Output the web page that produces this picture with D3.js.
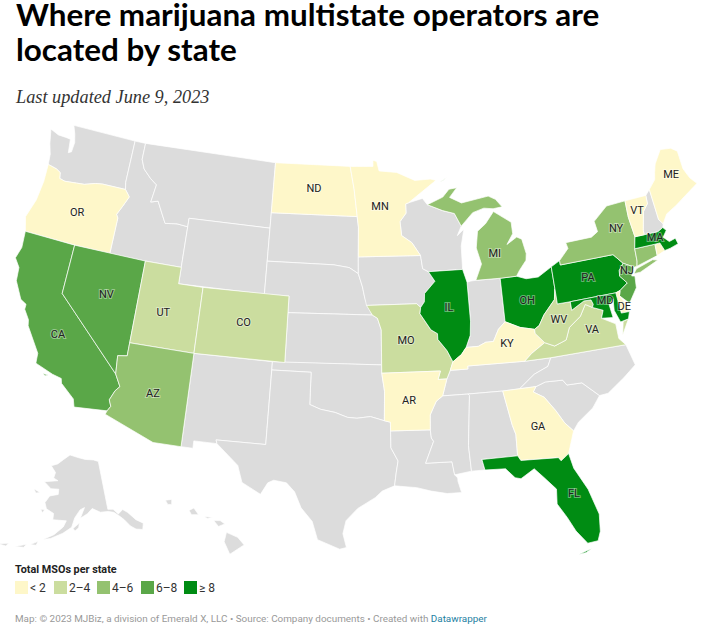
<!DOCTYPE html>
<html>
<head>
<meta charset="utf-8">
<script src="https://cdn.jsdelivr.net/npm/d3@7"></script>
<style>
	body { margin: 0; background: #fff; }
	text { font-family: Roboto, sans-serif; }
	.title { font-family: Lato, sans-serif; font-weight: 700; font-size: 31.4px; fill: #000; }
	.subtitle { font-family: "Liberation Serif", serif; font-style: italic; font-size: 18.3px; fill: #333; }
	.state-label { font-size: 11px; fill: #222; text-anchor: middle; paint-order: stroke; stroke: #fff; stroke-opacity: 0.4; stroke-width: 2px; }
</style>
</head>
<body>
<svg id="chart" width="706" height="637"></svg>
<script>
var titleLines = ["Where marijuana multistate operators are", "located by state"];
var subtitle = "Last updated June 9, 2023";
var legendTitle = "Total MSOs per state";
var legendLabels = ["< 2", "2\u20134", "4\u20136", "6\u20138", "\u2265 8"];
var legendColors = ["#fef7c9", "#cbdd9f", "#94c270", "#5aa748", "#008c13"];
var noDataColor = "#dcdcdc";

// buckets are indexes into legendLabels
var under2 = ["OR", "ND", "MN", "ME", "VT", "AR", "KY", "GA", "RI", "DE"];
var from2to4 = ["UT", "CO", "MO", "WV", "VA"];
var from4to6 = ["AZ", "MI", "NY", "CT"];
var from6to8 = ["CA", "NV", "NJ"];
var over8 = ["IL", "OH", "PA", "FL", "MA", "MD"];

// state outlines as [lon, lat] rings
var outlines = {
	WA: [[[-124.7,48.38],[-123.9,48.17],[-123.1,48.15],[-122.75,48.12],[-122.6,47.3],[-122.35,47.4],[-122.3,48.0],[-122.5,48.5],[-122.8,49],[-117.03,49],[-117.04,46.42],[-116.92,45.99],[-118.98,45.99],[-119.6,45.92],[-120.5,45.7],[-121.2,45.65],[-122.2,45.57],[-122.7,45.65],[-122.8,46],[-123.2,46.15],[-124,46.27],[-124.1,46.9],[-124.4,47.5]]],
	OR: [[[-124,46.27],[-123.2,46.15],[-122.8,46],[-122.7,45.65],[-122.2,45.57],[-121.2,45.65],[-120.5,45.7],[-119.6,45.92],[-118.98,45.99],[-116.92,45.99],[-116.46,45.6],[-116.85,44.95],[-117.2,44.4],[-117.03,44.2],[-117.03,42],[-120,42],[-124.21,42],[-124.55,42.85],[-124.1,44],[-123.95,45.2]]],
	CA: [[[-124.21,42],[-120,42],[-120,39],[-114.63,35],[-114.14,34.3],[-114.43,34],[-114.72,33.4],[-114.52,33.03],[-114.72,32.72],[-117.12,32.53],[-117.3,33],[-118.4,33.75],[-118.5,34.03],[-119.2,34.15],[-120.6,34.55],[-120.65,35.15],[-121.9,36.6],[-122,36.95],[-122.5,37.5],[-122.5,37.8],[-123,38],[-123.75,39],[-123.85,39.8],[-124.35,40.3],[-124.1,41]], [[-119.9,34.05],[-119.5,34.05],[-119.7,33.95]]],
	NV: [[[-120,42],[-114.04,42],[-114.04,36.2],[-114.75,36.1],[-114.63,35],[-120,39]]],
	ID: [[[-117.03,49],[-116.05,49],[-116.05,48],[-115.7,47.45],[-114.95,46.95],[-114.35,46.65],[-114.55,45.56],[-113.94,45.7],[-113.45,45.05],[-113,44.45],[-112,44.55],[-111.05,44.48],[-111.05,42],[-114.04,42],[-117.03,42],[-117.03,44.2],[-117.2,44.4],[-116.85,44.95],[-116.46,45.6],[-116.92,45.99],[-117.04,46.42]]],
	MT: [[[-116.05,49],[-104.05,49],[-104.05,45],[-111.05,45],[-111.05,44.48],[-112,44.55],[-113,44.45],[-113.45,45.05],[-113.94,45.7],[-114.55,45.56],[-114.35,46.65],[-114.95,46.95],[-115.7,47.45],[-116.05,48]]],
	WY: [[[-111.05,45],[-104.05,45],[-104.05,41],[-111.05,41]]],
	UT: [[[-114.04,42],[-111.05,42],[-111.05,41],[-109.05,41],[-109.05,37],[-114.04,37]]],
	CO: [[[-109.05,41],[-102.05,41],[-102.05,37],[-109.05,37]]],
	AZ: [[[-114.04,37],[-109.05,37],[-109.05,31.33],[-111.07,31.33],[-114.81,32.5],[-114.72,32.72],[-114.52,33.03],[-114.72,33.4],[-114.43,34],[-114.14,34.3],[-114.63,35],[-114.75,36.1],[-114.04,36.2]]],
	NM: [[[-109.05,37],[-103,37],[-103.04,32],[-106.62,32],[-106.53,31.78],[-108.2,31.78],[-108.2,31.33],[-109.05,31.33]]],
	ND: [[[-104.05,49],[-97.23,49],[-96.85,47.6],[-96.56,45.94],[-104.05,45.94]]],
	SD: [[[-104.05,45.94],[-96.56,45.94],[-96.45,45.3],[-96.45,43.5],[-96.44,42.49],[-97.2,42.85],[-98.5,43],[-104.05,43]]],
	NE: [[[-104.05,43],[-98.5,43],[-97.2,42.85],[-96.44,42.49],[-96.1,41.7],[-95.9,41],[-95.31,40],[-102.05,40],[-102.05,41],[-104.05,41]]],
	KS: [[[-102.05,40],[-95.31,40],[-94.9,39.8],[-94.61,39.1],[-94.62,37],[-102.05,37]]],
	OK: [[[-103,37],[-94.62,37],[-94.62,36.5],[-94.43,35.4],[-94.48,33.64],[-95.5,33.9],[-96.5,33.8],[-97.2,33.85],[-98.1,34.13],[-99.2,34.3],[-100,34.56],[-100,36.5],[-103,36.5]]],
	TX: [[[-106.62,32],[-103.04,32],[-103,36.5],[-100,36.5],[-100,34.56],[-99.2,34.3],[-98.1,34.13],[-97.2,33.85],[-96.5,33.8],[-95.5,33.9],[-94.48,33.64],[-94.04,33.55],[-94.04,32],[-93.55,31.2],[-93.7,30.5],[-93.84,29.7],[-94.7,29.4],[-95.2,29],[-96.4,28.35],[-97.2,27.6],[-97.4,26.8],[-97.15,25.96],[-97.6,25.85],[-99.1,26.4],[-99.5,27.5],[-100.3,28.3],[-100.8,29.25],[-101.4,29.77],[-102.3,29.88],[-102.7,29.7],[-103.15,28.97],[-104.5,29.6],[-104.9,30.6],[-106.53,31.78]]],
	MN: [[[-97.23,49],[-95.15,49],[-95.15,49.38],[-94.8,49.3],[-94.6,48.72],[-93,48.6],[-91.4,48.07],[-90,48.1],[-89.5,48],[-92.05,46.72],[-92.3,46.66],[-92.3,46.1],[-92.85,45.6],[-92.75,44.75],[-91.9,44.3],[-91.22,43.5],[-96.45,43.5],[-96.45,45.3],[-96.56,45.94],[-96.85,47.6]]],
	IA: [[[-96.45,43.5],[-91.22,43.5],[-91.1,42.7],[-90.64,42.5],[-90.15,41.9],[-91.05,41.2],[-91.1,40.7],[-91.42,40.38],[-91.73,40.61],[-95.77,40.58],[-95.9,41],[-96.1,41.7],[-96.44,42.49]]],
	MO: [[[-95.77,40.58],[-91.73,40.61],[-91.42,40.38],[-91.5,40],[-90.7,39],[-90.2,38.75],[-90.2,38.4],[-89.55,37.7],[-89.15,37],[-89.4,36.5],[-89.7,36],[-90.37,36],[-90.15,36.5],[-94.62,36.5],[-94.62,37],[-94.61,39.1],[-94.9,39.8],[-95.31,40]]],
	AR: [[[-94.62,36.5],[-90.15,36.5],[-90.37,36],[-89.7,36],[-90.1,35],[-90.6,34.7],[-91.1,33.9],[-91.15,33],[-94.04,33.02],[-94.04,33.55],[-94.48,33.64],[-94.43,35.4]]],
	LA: [[[-94.04,33.02],[-91.15,33],[-91.1,32.5],[-90.95,32.3],[-91.6,31],[-89.73,31],[-89.6,30.2],[-89.4,30],[-89.4,29.8],[-89.2,29.1],[-90.2,29.1],[-91.3,29.3],[-92.3,29.55],[-93.84,29.7],[-93.7,30.5],[-93.55,31.2],[-94.04,32]]],
	WI: [[[-92.05,46.72],[-90.8,46.95],[-90.4,46.55],[-89.1,46.13],[-88.1,45.9],[-87.6,45.1],[-88,44.55],[-87.4,44.9],[-87.75,43.9],[-87.8,42.49],[-90.64,42.5],[-91.1,42.7],[-91.22,43.5],[-91.9,44.3],[-92.75,44.75],[-92.85,45.6],[-92.3,46.1],[-92.3,46.66]]],
	IL: [[[-90.64,42.5],[-87.8,42.49],[-87.53,41.7],[-87.53,39.35],[-87.65,38.5],[-88.05,37.8],[-88.45,37.4],[-89.15,37],[-89.55,37.7],[-90.2,38.4],[-90.2,38.75],[-90.7,39],[-91.5,40],[-91.42,40.38],[-91.1,40.7],[-91.05,41.2],[-90.15,41.9]]],
	IN: [[[-87.53,41.7],[-87.2,41.75],[-86.8,41.76],[-84.8,41.73],[-84.82,39.1],[-85.4,38.7],[-85.9,38],[-86.5,38],[-87.1,37.8],[-88.05,37.8],[-87.65,38.5],[-87.53,39.35]]],
	OH: [[[-84.8,41.73],[-83.45,41.73],[-82.7,41.5],[-81.7,41.5],[-80.52,41.98],[-80.52,40.64],[-80.7,40],[-81.7,39.2],[-82.2,38.6],[-82.6,38.42],[-83.7,38.65],[-84.82,39.1]]],
	KY: [[[-89.4,36.5],[-88.05,36.5],[-88.05,36.68],[-83.68,36.6],[-83.1,37],[-81.97,37.54],[-82.6,38.17],[-82.6,38.42],[-83.7,38.65],[-84.82,39.1],[-85.4,38.7],[-85.9,38],[-86.5,38],[-87.1,37.8],[-88.05,37.8],[-88.45,37.4],[-89.15,37]]],
	TN: [[[-89.7,36],[-89.4,36.5],[-88.05,36.5],[-88.05,36.68],[-83.68,36.6],[-81.68,36.59],[-82,36.1],[-83.1,35.75],[-84.32,35],[-85.6,34.98],[-88.2,35],[-90.1,35]]],
	MS: [[[-90.1,35],[-88.2,35],[-88.1,34.9],[-88.47,31.9],[-88.4,30.35],[-89.6,30.2],[-89.73,31],[-91.6,31],[-90.95,32.3],[-91.1,32.5],[-91.15,33],[-91.1,33.9],[-90.6,34.7]]],
	AL: [[[-88.2,35],[-85.6,34.98],[-85.18,32.87],[-85,32.3],[-85.05,31],[-87.6,31],[-87.45,30.35],[-88.4,30.35],[-88.47,31.9],[-88.1,34.9]]],
	GA: [[[-85.6,34.98],[-83.1,35],[-83.35,34.7],[-82.6,34.3],[-81.9,33.4],[-81.4,32.6],[-80.85,32.03],[-81.45,30.72],[-82.05,30.36],[-82.2,30.57],[-84.86,30.7],[-85.05,31],[-85,32.3],[-85.18,32.87]]],
	FL: [[[-87.6,31],[-85.05,31],[-84.86,30.7],[-82.2,30.57],[-82.05,30.36],[-81.45,30.72],[-81.25,29.8],[-80.5,28.4],[-80.03,26.8],[-80.15,25.75],[-80.4,25.2],[-81.1,25.15],[-81.75,26],[-82.2,26.9],[-82.75,27.8],[-82.65,28.7],[-83.4,29.5],[-84,30.1],[-85,29.6],[-85.4,29.7],[-86,30.3],[-87.45,30.35]], [[-81.8,24.55],[-80.9,24.8],[-81.3,24.6]]],
	SC: [[[-83.1,35],[-82.35,35.2],[-81.05,35.15],[-80.8,34.82],[-79.67,34.8],[-78.55,33.86],[-79.2,33.2],[-80.4,32.5],[-80.85,32.03],[-81.4,32.6],[-81.9,33.4],[-82.6,34.3],[-83.35,34.7]]],
	NC: [[[-84.32,35],[-83.1,35.75],[-82,36.1],[-81.68,36.59],[-75.87,36.55],[-75.5,35.25],[-76.5,34.65],[-77.9,33.9],[-78.55,33.86],[-79.67,34.8],[-80.8,34.82],[-81.05,35.15],[-82.35,35.2],[-83.1,35]]],
	VA: [[[-83.68,36.6],[-83.1,37],[-81.97,37.54],[-81.25,37.25],[-80.3,37.5],[-79.9,38.2],[-78.9,38.75],[-78.35,39.4],[-77.83,39.14],[-77.05,38.85],[-77.3,38.4],[-76.3,37.9],[-76.3,37],[-75.87,36.55],[-81.68,36.59]], [[-75.95,37.15],[-75.6,37.6],[-75.25,38.03],[-75.7,37.95]]],
	WV: [[[-81.97,37.54],[-82.6,38.17],[-82.6,38.42],[-82.2,38.6],[-81.7,39.2],[-80.7,40],[-80.52,40.64],[-80.52,39.72],[-79.48,39.72],[-79.48,39.2],[-78.4,39.62],[-77.83,39.6],[-77.72,39.32],[-77.83,39.14],[-78.35,39.4],[-78.9,38.75],[-79.9,38.2],[-80.3,37.5],[-81.25,37.25]]],
	PA: [[[-80.52,41.98],[-79.76,42.27],[-79.76,42],[-75.35,42],[-74.7,41.36],[-75.13,40.98],[-75.2,40.65],[-74.72,40.15],[-75.42,39.8],[-75.79,39.72],[-79.48,39.72],[-80.52,39.72],[-80.52,40.64]]],
	NY: [[[-79.76,42.27],[-78.9,42.9],[-79,43.27],[-76.8,43.3],[-76.2,43.55],[-76.3,44.2],[-75,44.95],[-73.35,45],[-73.4,44],[-73.25,42.75],[-73.5,42.05],[-73.55,41.3],[-73.65,41],[-73.9,40.98],[-74.7,41.36],[-75.35,42],[-79.76,42]], [[-74.03,40.6],[-73.75,40.85],[-72.3,41.15],[-71.9,41.05],[-73.5,40.6]]],
	NJ: [[[-74.7,41.36],[-73.9,40.98],[-74.25,40.5],[-74,40.45],[-74.1,39.75],[-74.9,38.93],[-75.55,39.5],[-75.42,39.8],[-74.72,40.15],[-75.2,40.65],[-75.13,40.98]]],
	DE: [[[-75.79,39.72],[-75.42,39.8],[-75.55,39.5],[-75.1,38.8],[-75.05,38.45],[-75.7,38.46]]],
	MD: [[[-79.48,39.72],[-75.79,39.72],[-75.7,38.46],[-75.05,38.45],[-75.25,38.03],[-75.9,37.95],[-76.2,38.7],[-76.1,39.4],[-76.5,39.1],[-76.4,38.3],[-77.3,38.4],[-77.05,38.85],[-77.83,39.14],[-77.72,39.32],[-77.83,39.6],[-78.4,39.62],[-79.48,39.2]]],
	CT: [[[-73.5,42.05],[-71.8,42.02],[-71.85,41.32],[-73.65,41],[-73.55,41.3]]],
	RI: [[[-71.8,42.02],[-71.38,42.02],[-71.15,41.5],[-71.85,41.32]]],
	MA: [[[-73.5,42.05],[-73.25,42.75],[-72.46,42.73],[-71.3,42.7],[-70.82,42.87],[-70.6,42.65],[-71,42.3],[-70.6,41.95],[-70.05,42.05],[-69.95,41.68],[-70.65,41.55],[-71.15,41.5],[-71.38,42.02],[-71.8,42.02]]],
	VT: [[[-73.35,45],[-71.5,45.01],[-71.55,44.5],[-72.05,44.1],[-72.45,43],[-72.46,42.73],[-73.25,42.75],[-73.4,44]]],
	NH: [[[-71.5,45.01],[-71.08,45.3],[-70.98,43.4],[-70.7,43.08],[-70.82,42.87],[-71.3,42.7],[-72.46,42.73],[-72.45,43],[-72.05,44.1],[-71.55,44.5]]],
	ME: [[[-71.08,45.3],[-70.4,45.8],[-70.25,46.2],[-70,46.7],[-69.22,47.46],[-68.3,47.36],[-67.8,47.07],[-67.78,45.95],[-67.45,45.3],[-67,44.85],[-68.5,44.25],[-69.2,43.95],[-70.2,43.6],[-70.7,43.08],[-70.98,43.4]]],
	MI: [[[-84.8,41.73],[-83.45,41.73],[-83.15,42.05],[-82.5,42.6],[-82.4,43],[-82.6,43.9],[-83,44.07],[-83.9,43.7],[-83.3,44.3],[-83.3,45],[-84.7,45.78],[-85.5,45.1],[-86.25,44.7],[-86.5,43.7],[-86.2,42.7],[-86.8,41.76]], [[-90.4,46.55],[-89,46.95],[-88.4,47.4],[-87.7,47.45],[-88.4,46.9],[-87.4,46.5],[-85,46.75],[-84.4,46.5],[-83.9,46],[-84.7,45.95],[-85.5,46.05],[-86.5,45.85],[-87.6,45.1],[-88.1,45.9],[-89.1,46.13]], [[-89.2,47.85],[-88.45,48.15],[-88.9,47.95]]],
	AK: [[[-141,69.65],[-143.5,70.1],[-148,70.4],[-152,70.85],[-156.6,71.35],[-160,70.4],[-163,69.4],[-166.2,68.85],[-163.5,67.7],[-164,66.6],[-161.8,66.2],[-168,65.6],[-164.5,64.5],[-161,64.6],[-161,63.6],[-164.5,63.1],[-166,61.7],[-165,60.6],[-162,59.9],[-162,58.7],[-157,58.7],[-158,57.5],[-161,55.9],[-164.5,54.7],[-162,55.1],[-158,56.3],[-155,57.5],[-153.9,59.3],[-151.8,60.8],[-150,61.2],[-151.8,59.2],[-149,60],[-147,60.9],[-144,60],[-141,59.9],[-139,59.5],[-137.5,58.7],[-136,57.7],[-134.5,56.2],[-133,55.3],[-130.9,54.8],[-130,55.9],[-132,57],[-134,58.8],[-135.5,59.6],[-137.5,59],[-139,60.1],[-141,60.3]], [[-154.5,57.3],[-152.2,58.3],[-152.5,57.4],[-153.8,56.8]], [[-171.8,63.8],[-168.8,63.4],[-170.5,63.1]], [[-167.2,60.3],[-165.6,60.4],[-166.2,59.7]], [[-168.2,53.3],[-165.9,54.2],[-166.3,53.4]], [[-172.8,52.2],[-169.4,53.2],[-170,52.5]], [[-178,51.7],[-174.8,52.5],[-175.5,51.8]]],
	HI: [[[-155.9,20.25],[-155.2,19.95],[-154.8,19.5],[-155.7,18.95],[-156.05,19.7]], [[-156.7,20.95],[-156.3,20.95],[-156,20.75],[-156.4,20.6]], [[-157.3,21.2],[-156.75,21.15],[-157.1,21.08]], [[-158.25,21.55],[-157.95,21.7],[-157.65,21.3],[-158.1,21.3]], [[-159.75,22.15],[-159.35,22.2],[-159.35,21.9],[-159.6,21.9]]]
};

// label anchors as [lon, lat]
var labelAnchors = {
	OR: [-120.5,44], ND: [-100.43,47.6], MN: [-94.56,46.57], ME: [-68.9,45.84], VT: [-72.54,44.28],
	CA: [-119.55,36.6], NV: [-116.6,39.6], UT: [-111.9,39.2], CO: [-105.5,39.2], AZ: [-111.66,34.3],
	MO: [-92.68,38.45], AR: [-92.62,34.85], IL: [-89.15,40.3], MI: [-85,43.26], OH: [-82.86,40.2],
	KY: [-84.87,37.8], GA: [-83.34,32.63], FL: [-81.49,28.34], WV: [-80.59,38.8], VA: [-78.18,37.87],
	PA: [-77.72,40.99], NY: [-74.62,43.52], NJ: [-74.52,40.9], MD: [-76.74,39.41], DE: [-75.36,38.84], MA: [-71.63,42.45]
};

var svg = d3.select("#chart");

svg.selectAll(".title")
	.data(titleLines)
	.enter()
	.append("text")
	.attr("class", "title")
	.attr("x", 16)
	.attr("y", function(d, i) { return 26 + i * 35; })
	.text(function(d) { return d; });

svg.append("text")
	.attr("class", "subtitle")
	.attr("x", 16)
	.attr("y", 103)
	.text(subtitle);

function bucketOf(code) {
	var buckets = [under2, from2to4, from4to6, from6to8, over8];
	for (var i = 0; i < buckets.length; i++) {
		if (buckets[i].indexOf(code) >= 0) return legendColors[i];
	}
	return noDataColor;
}

// rings were typed either way round, d3.geo wants the small side inside
function makeFeature(code) {
	var polys = outlines[code].map(function(ring) {
		var closed = ring.concat([ring[0]]);
		if (d3.geoArea({type: "Polygon", coordinates: [closed]}) > 2 * Math.PI) closed = closed.slice().reverse();
		return [closed];
	});
	return {type: "Feature", id: code, geometry: {type: "MultiPolygon", coordinates: polys}};
}

var lower48 = d3.geoAlbers().scale(945).translate([356, 336.7]);
var alaska = d3.geoConicEqualArea().rotate([154, 0]).center([-2, 58.5]).parallels([55, 65]).scale(300).translate([69, 522]);
var hawaii = d3.geoConicEqualArea().rotate([157, 0]).center([-3, 19.9]).parallels([8, 18]).scale(970).translate([161, 538]);

function projectionFor(code) {
	if (code === "AK") return alaska;
	if (code === "HI") return hawaii;
	return lower48;
}

var features = Object.keys(outlines).map(makeFeature);
// coloured states go on top so their fill is not cut by the grey ones
features.sort(function(a, b) {
	return (bucketOf(a.id) === noDataColor ? 0 : 1) - (bucketOf(b.id) === noDataColor ? 0 : 1);
});

svg.append("g")
	.selectAll("path")
	.data(features)
	.enter()
	.append("path")
	.attr("d", function(d) { return d3.geoPath(projectionFor(d.id))(d); })
	.attr("fill", function(d) { return bucketOf(d.id); })
	.attr("stroke", "#fff")
	.attr("stroke-width", 0.7)
	.attr("stroke-linejoin", "round");

svg.append("g")
	.selectAll("text")
	.data(Object.keys(labelAnchors))
	.enter()
	.append("text")
	.attr("class", "state-label")
	.attr("x", function(d) { return lower48(labelAnchors[d])[0]; })
	.attr("y", function(d) { return lower48(labelAnchors[d])[1] + 4; })
	.text(function(d) { return d; });

svg.append("text")
	.attr("x", 15)
	.attr("y", 573)
	.attr("font-size", 10.8)
	.attr("font-weight", 700)
	.attr("fill", "#222")
	.text(legendTitle);

var legendSteps = [15, 54, 97, 141, 184];
var legend = svg.append("g")
	.selectAll("g")
	.data(legendLabels)
	.enter()
	.append("g")
	.attr("transform", function(d, i) { return "translate(" + legendSteps[i] + ",581)"; });

legend.append("rect")
	.attr("width", 13)
	.attr("height", 13)
	.attr("fill", function(d, i) { return legendColors[i]; });

legend.append("text")
	.attr("x", 15)
	.attr("y", 11)
	.attr("font-size", 12)
	.attr("fill", "#333")
	.text(function(d) { return d; });

var source = svg.append("text")
	.attr("x", 15)
	.attr("y", 622)
	.attr("font-size", 9.9)
	.attr("fill", "#999");
source.append("tspan").text("Map: \u00a9 2023 MJBiz, a division of Emerald X, LLC \u2022 Source: Company documents \u2022 Created with ");
source.append("tspan").attr("fill", "#1d81a2").text("Datawrapper");
</script>
</body>
</html>
